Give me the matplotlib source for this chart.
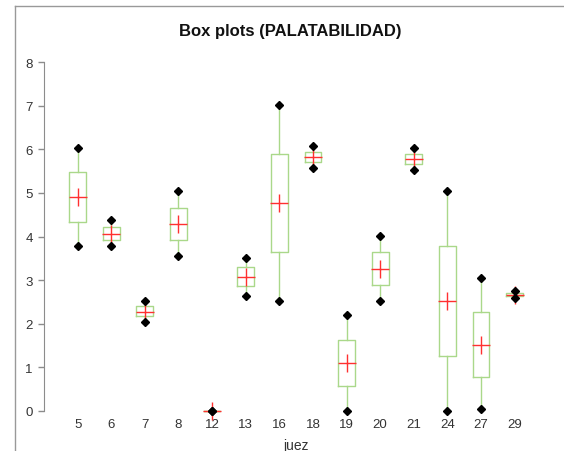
import matplotlib
matplotlib.use("Agg")
import matplotlib.pyplot as plt
from matplotlib.lines import Line2D

plt.rcParams['font.family'] = ['Liberation Sans', 'DejaVu Sans']

# juez categories and box statistics (PALATABILIDAD)
jueces = ['5', '6', '7', '8', '12', '13', '16', '18', '19', '20', '21', '24', '27', '29']
minimo = [3.78, 3.78, 2.04, 3.55, 0.0, 2.64, 2.52, 5.57, 0.0, 2.52, 5.53, 0.0, 0.04, 2.59]
q1 = [4.33, 3.92, 2.17, 3.93, 0.0, 2.87, 3.64, 5.70, 0.57, 2.89, 5.66, 1.25, 0.78, 2.63]
media = [4.90, 4.06, 2.27, 4.28, 0.0, 3.07, 4.76, 5.82, 1.10, 3.26, 5.77, 2.52, 1.52, 2.66]
q3 = [5.47, 4.21, 2.40, 4.65, 0.0, 3.30, 5.89, 5.93, 1.63, 3.64, 5.89, 3.78, 2.28, 2.70]
maximo = [6.03, 4.38, 2.52, 5.04, 0.0, 3.51, 7.02, 6.08, 2.20, 4.01, 6.03, 5.04, 3.04, 2.74]

verde = '#aad88a'
gris = '#8c8c8c'

fig = plt.figure(figsize=(5.64, 4.52), dpi=100)
ax = fig.add_axes([0.078, 0.0885, 0.894, 0.772])

stats = []
for i in range(len(jueces)):
    stats.append({
        'med': media[i], 'q1': q1[i], 'q3': q3[i],
        'whislo': minimo[i], 'whishi': maximo[i],
        'mean': media[i], 'fliers': [], 'label': jueces[i],
    })

pos = list(range(1, len(jueces) + 1))
ax.bxp(stats, positions=pos, widths=0.5, showcaps=False, showfliers=False,
       showmeans=True,
       boxprops=dict(color=verde, linewidth=1.0),
       whiskerprops=dict(color=verde, linewidth=1.0),
       medianprops=dict(visible=False),
       meanprops=dict(marker='+', markersize=13.5, markeredgecolor='#ff3030',
                      markeredgewidth=1.0, linestyle='none'),
       manage_ticks=False)

# min / max points
ax.plot(pos, minimo, 'D', color='black', markersize=4, clip_on=False, zorder=4)
ax.plot(pos, maximo, 'D', color='black', markersize=4, clip_on=False, zorder=4)

for art in ax.lines:
    art.set_clip_on(False)

ax.set_xlim(0, 15)
ax.set_ylim(0, 8)
ax.set_xticks(pos)
ax.set_xticklabels(jueces)
ax.set_yticks(range(0, 9))

for s in ['top', 'right', 'bottom']:
    ax.spines[s].set_visible(False)
ax.spines['left'].set_color(gris)
ax.tick_params(axis='y', colors=gris, length=4, width=1, labelcolor='#333333',
               labelsize=9.5, pad=4)
ax.tick_params(axis='x', length=0, labelcolor='#333333', labelsize=9.5, pad=5)

ax.set_xlabel('juez', fontsize=10, color='#333333', labelpad=6)
fig.text(0.515, 0.931, 'Box plots (PALATABILIDAD)', ha='center', va='center',
         fontsize=12, fontweight='bold', color='#111111')

# outer frame, left and top edges
fig.add_artist(Line2D([14.5 / 564, 14.5 / 564], [0, 1 - 7 / 452],
                      transform=fig.transFigure, color='#999999', linewidth=1))
fig.add_artist(Line2D([14.5 / 564, 1], [1 - 7 / 452, 1 - 7 / 452],
                      transform=fig.transFigure, color='#999999', linewidth=1))

fig.savefig('out.png', dpi=100)
